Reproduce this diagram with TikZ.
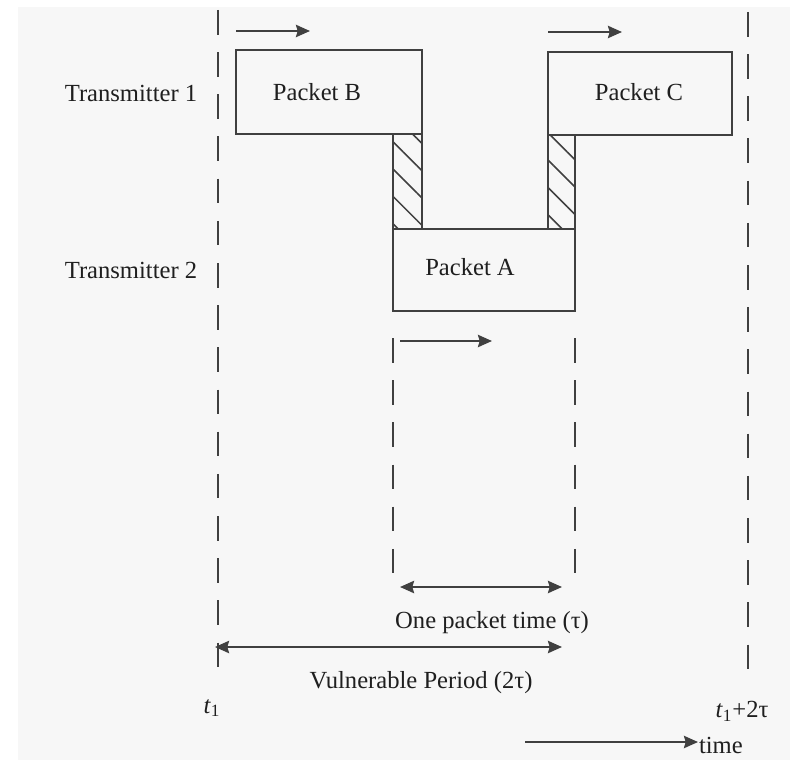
\documentclass[tikz,border=0pt]{standalone}
\usepackage{fontspec}
\setmainfont{Liberation Serif}
\usetikzlibrary{patterns.meta, arrows.meta}

\tikzset{
  guide/.style={line width=1.2pt, dash pattern=on 14pt off 10pt},
  packet/.style={line width=1.2pt},
  clash/.style={packet, pattern={Lines[angle=-45, distance=11pt, line width=0.9pt]}, pattern color=black!75},
  lbl/.style={inner sep=0pt, text=black!88, font=\fontsize{14}{16}\selectfont},
}

\begin{document}
\begin{tikzpicture}[x=0.02cm, y=-0.02cm, >={Stealth[length=8pt, width=7pt, inset=1pt]}, line width=1.2pt, color=black!75]
  \useasboundingbox (0,0) rectangle (790,760);
  \fill[black!3] (18,7) rectangle (790,760);

  % Time marks
  \draw[guide] (218,10) -- (218,672);
  \draw[guide] (748,12) -- (748,670);
  \draw[guide] (393,338) -- (393,583);
  \draw[guide] (575,338) -- (575,583);

  % Packets
  \draw[packet] (236,50) rectangle (422,134);
  \draw[clash] (393,134) rectangle (422,229);
  \draw[packet] (393,229) rectangle (575,311);
  \draw[clash] (548,135) rectangle (575,229);
  \draw[packet] (548,52) rectangle (732,135);

  \node[lbl] (pktB) at (317,92) {Packet B};
  \node[lbl] (pktC) at (639,92) {Packet C};
  \node[lbl] (pktA) at (470,267) {Packet A};
  \node[lbl] (tx1) at (131,93) {Transmitter 1};
  \node[lbl] (tx2) at (131,270) {Transmitter 2};

  % Direction of sending
  \coordinate (bS) at (236,31);
  \coordinate (bE) at (310,31);
  \draw[->] (bS) -- (bE);
  \coordinate (cS) at (548,32);
  \coordinate (cE) at (622,32);
  \draw[->] (cS) -- (cE);
  \coordinate (aS) at (400,341);
  \coordinate (aE) at (492,341);
  \draw[->] (aS) -- (aE);

  % Periods
  \coordinate (pS) at (400,587);
  \coordinate (pE) at (562,587);
  \draw[<->] (pS) -- (pE);
  \node[lbl] (ptime) at (492,623) {One packet time (τ)};
  \coordinate (vS) at (215,647);
  \coordinate (vE) at (562,647);
  \draw[<->] (vS) -- (vE);
  \node[lbl] (vper) at (421,683) {Vulnerable Period (2τ)};

  \node[lbl] (t1) at (212,708) {\textit{t}\textsubscript{1}};
  \node[lbl] (t2) at (742,711) {\textit{t}\textsubscript{1}+2τ};

  % Time axis
  \node[lbl, anchor=west] (tlbl) at (698,745) {time};
  \coordinate (tS) at (525,742);
  \draw[->] (tS) -- (tS -| tlbl.west);
\end{tikzpicture}
\end{document}
